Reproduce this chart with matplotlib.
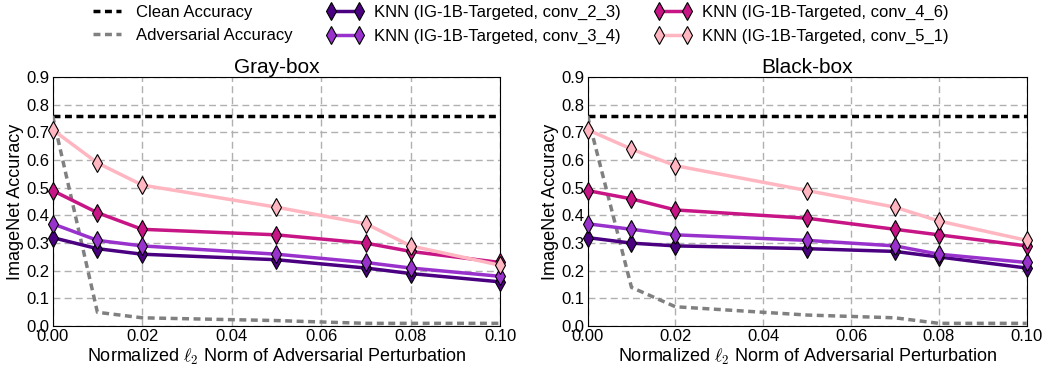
import matplotlib
matplotlib.use("Agg")
import matplotlib.pyplot as plt

plt.rcParams['font.family'] = ['Liberation Sans', 'DejaVu Sans']
plt.rcParams['mathtext.fontset'] = 'cm'

# Datos
eps = [0.0, 0.01, 0.02, 0.05, 0.07, 0.08, 0.10]
clean_acc = 0.76

gray_adv = [0.76, 0.05, 0.03, 0.02, 0.01, 0.01, 0.01]
gray_23 = [0.32, 0.28, 0.26, 0.24, 0.21, 0.19, 0.16]
gray_34 = [0.37, 0.31, 0.29, 0.26, 0.23, 0.21, 0.18]
gray_46 = [0.49, 0.41, 0.35, 0.33, 0.30, 0.27, 0.23]
gray_51 = [0.71, 0.59, 0.51, 0.43, 0.37, 0.29, 0.22]

black_adv = [0.76, 0.14, 0.07, 0.04, 0.03, 0.01, 0.01]
black_23 = [0.32, 0.30, 0.29, 0.28, 0.27, 0.25, 0.21]
black_34 = [0.37, 0.35, 0.33, 0.31, 0.29, 0.26, 0.23]
black_46 = [0.49, 0.46, 0.42, 0.39, 0.35, 0.33, 0.29]
black_51 = [0.71, 0.64, 0.58, 0.49, 0.43, 0.38, 0.31]

capas = ["conv_2_3", "conv_3_4", "conv_4_6", "conv_5_1"]
colores = ["#4b0082", "#9932cc", "#c71585", "#ffb6c1"]

fig = plt.figure(figsize=(10.53, 3.71), dpi=100)
ax1 = fig.add_axes([0.050, 0.121, 0.425, 0.671])
ax2 = fig.add_axes([0.558, 0.121, 0.417, 0.671])

paneles = [
	(ax1, "Gray-box", gray_adv, [gray_23, gray_34, gray_46, gray_51]),
	(ax2, "Black-box", black_adv, [black_23, black_34, black_46, black_51]),
]

for ax, titulo, adv, knn in paneles:
	ax.plot([eps[0], eps[-1]], [clean_acc, clean_acc], color="black", ls=(0, (2, 1.3)),
		lw=2.5, label="Clean Accuracy", zorder=3)
	ax.plot(eps, adv, color="gray", ls=(0, (2, 1.3)), lw=2.5,
		label="Adversarial Accuracy", zorder=3)
	for valores, capa, color in zip(knn, capas, colores):
		ax.plot(eps, valores, color=color, lw=2.5, marker="d", markersize=9,
			markeredgecolor="black", markeredgewidth=0.8,
			label="KNN (IG-1B-Targeted, {c})".format(c=capa), zorder=4, clip_on=False)
	ax.set_xlim(0, 0.10)
	ax.set_ylim(0, 0.9)
	ax.set_xticks([0.0, 0.02, 0.04, 0.06, 0.08, 0.10])
	ax.set_xticklabels(["0.00", "0.02", "0.04", "0.06", "0.08", "0.10"])
	ax.set_yticks([0.0, 0.1, 0.2, 0.3, 0.4, 0.5, 0.6, 0.7, 0.8, 0.9])
	ax.set_yticklabels(["0.0", "0.1", "0.2", "0.3", "0.4", "0.5", "0.6", "0.7", "0.8", "0.9"])
	ax.tick_params(labelsize=12, length=0, pad=2)
	ax.grid(True, color="#b0b0b0", ls=(0, (5, 3)), lw=1)
	ax.set_axisbelow(True)
	ax.set_title(titulo, fontsize=15, pad=2)
	ax.set_xlabel(r"Normalized $\ell_2$ Norm of Adversarial Perturbation", fontsize=13, labelpad=2)
	ax.set_ylabel("ImageNet Accuracy", fontsize=13, labelpad=2)

handles, labels = ax1.get_legend_handles_labels()
fig.legend(handles, labels, loc="upper left", bbox_to_anchor=(88 / 1053, 1 - 5 / 371), ncol=3,
	frameon=False, fontsize=12, numpoints=2, handlelength=2.3, handletextpad=0.6,
	columnspacing=1.98, labelspacing=0.5, borderpad=0, borderaxespad=0)

plt.savefig("out.png", dpi=100)
plt.close()
